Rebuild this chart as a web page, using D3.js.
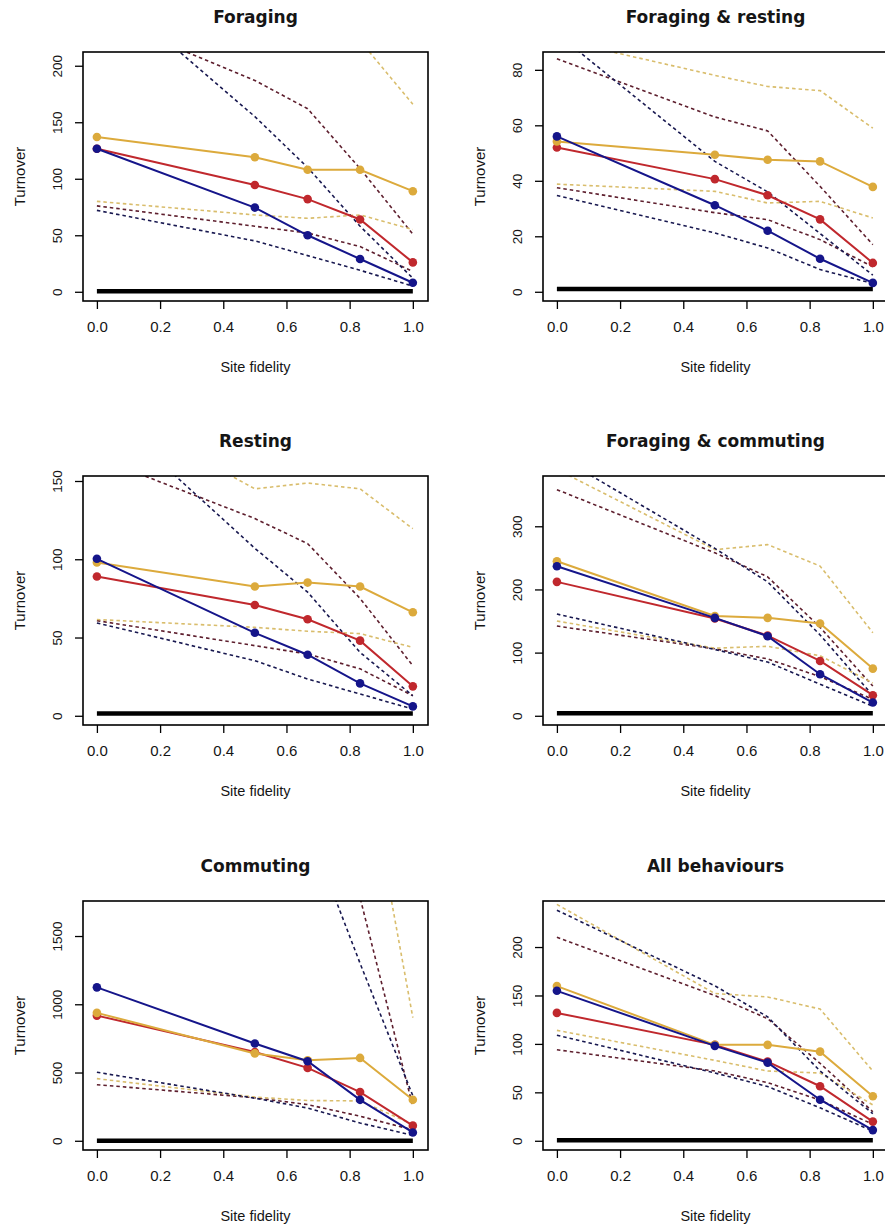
<!DOCTYPE html>
<html>
<head>
<meta charset="utf-8">
<script src="https://cdn.jsdelivr.net/npm/d3@7"></script>
<style>
  body { margin: 0; background: #fff; }
  text { font-family: "Liberation Sans", Arial, sans-serif; fill: #151515; }
  .title { font-family: "DejaVu Sans", sans-serif; font-weight: bold; font-size: 17px; }
</style>
</head>
<body>
<svg id="chart"></svg>
<script>
// panel titles, in reading order (2 columns x 3 rows)
const behaviours = ['Foraging', 'Foraging & resting', 'Resting',
  'Foraging & commuting', 'Commuting', 'All behaviours'];

const fidelity = [0, 0.5, 0.667, 0.833, 1];
const xTicks = [0, 0.2, 0.4, 0.6, 0.8, 1.0];

const yTicks = [
  [0, 50, 100, 150, 200],
  [0, 20, 40, 60, 80],
  [0, 50, 100, 150],
  [0, 100, 200, 300],
  [0, 500, 1000, 1500],
  [0, 50, 100, 150, 200]
];
// upper end of each panel's y range (R pads it by 4%)
const yTop = [204, 83.1, 147.3, 365, 1689, 238];
// thick black reference line
const baseline = [0.5, 1, 1.5, 4, 0, 0.5];

// mean turnover (solid lines with points)
const blueMean = [
  [126.5, 74.5, 50, 29, 8],
  [56, 31.2, 22, 11.9, 3.2],
  [100.3, 53, 39, 20.7, 6],
  [236.8, 155, 126, 65.8, 21],
  [1124, 713, 583, 300, 61],
  [154.8, 98, 80.7, 42.4, 11]
];
const redMean = [
  [126.5, 94.5, 82, 64, 26],
  [52, 40.6, 34.8, 26.1, 10.4],
  [89, 70.8, 61.7, 48, 18.8],
  [212, 154, 127, 86.8, 32.6],
  [917, 650, 534, 357, 111],
  [132, 99, 81.7, 56.3, 19.8]
];
const goldMean = [
  [137, 119, 108, 108, 89],
  [54.2, 49.4, 47.6, 47, 37.8],
  [98, 82.6, 85.1, 82.6, 66.1],
  [244.7, 157.9, 155, 146, 74.7],
  [937, 640, 590, 607, 300],
  [159.7, 99, 99, 92, 46]
];

// lower and upper bounds (dashed lines)
const blueLow = [
  [72, 45, 32, 19, 5],
  [34.7, 21.2, 15.8, 8, 3],
  [59.3, 35.2, 23.5, 13.9, 4.3],
  [161, 105, 85, 50, 15],
  [502, 312, 240, 130, 40],
  [109, 70, 56, 34, 10]
];
const blueHigh = [
  [275, 155, 110, 58, 12],
  [93, 47, 36, 21, 6],
  [199, 107, 79, 40.5, 12.8],
  [412, 265, 212, 128, 32],
  [6000, 3200, 2300, 1300, 330],
  [238, 160, 128, 72, 28]
];
const redLow = [
  [76, 58, 52, 40, 18],
  [37.5, 28.5, 26, 18.8, 9],
  [60.8, 44.8, 39.5, 30, 12.8],
  [142, 106, 90, 62, 26],
  [411, 315, 265, 180, 80],
  [94, 72, 60, 42, 17]
];
const redHigh = [
  [245, 187, 162, 109, 51],
  [84, 63, 58, 38, 17],
  [165, 126, 110, 75, 32],
  [358, 258, 220, 140, 47],
  [8000, 4500, 3300, 1780, 250],
  [210, 150, 126, 80, 30]
];
const goldLow = [
  [80, 68, 65, 68, 55],
  [38.8, 36.2, 32, 32.6, 26.6],
  [61.5, 56.5, 54, 52.5, 43.7],
  [150, 107, 110, 95, 52],
  [455, 320, 295, 292, 120],
  [114, 83, 72, 70, 37]
];
const goldHigh = [
  [300, 260, 245, 222, 166],
  [91, 78, 74, 72.5, 59],
  [200, 145, 148.7, 145, 119.5],
  [390, 263, 271, 237, 131.6],
  [12000, 6000, 4500, 3016, 902],
  [244, 152, 148.5, 136, 72]
];

const groups = [
  { mean: redMean, low: redLow, high: redHigh, col: '#c0282d', dash: '#5e1f2e' },
  { mean: goldMean, low: goldLow, high: goldHigh, col: '#dcaa3c', dash: '#d9bd6c' },
  { mean: blueMean, low: blueLow, high: blueHigh, col: '#15158a', dash: '#181850' }
];

const W = 885, H = 1229;
const colLeft = [83, 543];
const rowTop = [52, 476, 901];
const boxW = 345, boxH = 249;

const svg = d3.select('#chart').attr('width', W).attr('height', H);
const defs = svg.append('defs');

behaviours.forEach((name, i) => {
  const left = colLeft[i % 2], top = rowTop[Math.floor(i / 2)];
  const g = svg.append('g').attr('transform', `translate(${left},${top})`);

  const x = d3.scaleLinear().domain([-0.044, 1.048]).range([0, boxW]);
  const y = d3.scaleLinear().domain([-0.04 * yTop[i], 1.04 * yTop[i]]).range([boxH, 0]);

  defs.append('clipPath').attr('id', 'clip' + i)
    .append('rect').attr('width', boxW).attr('height', boxH);

  const plot = g.append('g').attr('clip-path', `url(#clip${i})`);
  const line = d3.line().x((d, j) => x(fidelity[j])).y(d => y(d));

  // dashed bounds
  groups.forEach(s => {
    [s.low[i], s.high[i]].forEach(vals => {
      plot.append('path').datum(vals)
        .attr('d', line)
        .attr('fill', 'none')
        .attr('stroke', s.dash)
        .attr('stroke-width', 1.6)
        .attr('stroke-dasharray', '3.5,3');
    });
  });

  // black reference line
  plot.append('line')
    .attr('x1', x(0)).attr('x2', x(1))
    .attr('y1', y(baseline[i])).attr('y2', y(baseline[i]))
    .attr('stroke', '#000').attr('stroke-width', 4.5);

  // mean lines + points
  groups.forEach(s => {
    plot.append('path').datum(s.mean[i])
      .attr('d', line)
      .attr('fill', 'none')
      .attr('stroke', s.col)
      .attr('stroke-width', 2);
    plot.selectAll(null).data(s.mean[i]).enter().append('circle')
      .attr('cx', (d, j) => x(fidelity[j]))
      .attr('cy', d => y(d))
      .attr('r', 4.3)
      .attr('fill', s.col);
  });

  // axes
  const xAxis = g.append('g').attr('transform', `translate(0,${boxH})`)
    .call(d3.axisBottom(x).tickValues(xTicks).tickSize(8).tickPadding(12)
      .tickFormat(d3.format('.1f')));
  xAxis.select('.domain').remove();
  xAxis.selectAll('line').attr('stroke', '#000').attr('stroke-width', 1.3);
  xAxis.selectAll('text').attr('font-size', 15).attr('fill', '#151515')
    .attr('font-family', '"Liberation Sans", Arial, sans-serif');

  const yAxis = g.append('g')
    .call(d3.axisLeft(y).tickValues(yTicks[i]).tickSize(8).tickFormat(d3.format('d')));
  yAxis.select('.domain').remove();
  yAxis.selectAll('line').attr('stroke', '#000').attr('stroke-width', 1.3);
  yAxis.selectAll('text')
    .attr('font-size', 13.5).attr('fill', '#151515')
    .attr('font-family', '"Liberation Sans", Arial, sans-serif')
    .attr('x', null).attr('dy', null)
    .attr('text-anchor', 'middle')
    .attr('transform', 'translate(-26,0) rotate(-90)')
    .attr('dominant-baseline', 'central');

  // box
  g.append('rect').attr('width', boxW).attr('height', boxH)
    .attr('fill', 'none').attr('stroke', '#000').attr('stroke-width', 1.6);

  // titles and axis labels
  g.append('text').attr('class', 'title')
    .attr('x', boxW / 2).attr('y', -35)
    .attr('text-anchor', 'middle').attr('dominant-baseline', 'central')
    .text(name);
  g.append('text')
    .attr('x', boxW / 2).attr('y', boxH + 66)
    .attr('text-anchor', 'middle').attr('dominant-baseline', 'central')
    .attr('font-size', 14.5)
    .text('Site fidelity');
  g.append('text')
    .attr('transform', `translate(-64,${boxH / 2}) rotate(-90)`)
    .attr('text-anchor', 'middle').attr('dominant-baseline', 'central')
    .attr('font-size', 15)
    .text('Turnover');
});
</script>
</body>
</html>
